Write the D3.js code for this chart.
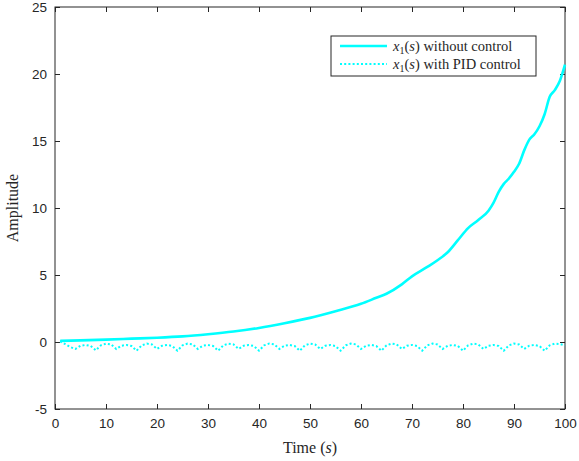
<!DOCTYPE html>
<html>
<head>
<meta charset="utf-8">
<script src="https://cdn.jsdelivr.net/npm/d3@7"></script>
<style>
  body { margin: 0; background: #fff; }
  svg { display: block; }
  .tick text { font-family: "Liberation Sans", Arial, sans-serif; font-size: 13.5px; fill: #262626; }
  .lbl { font-family: "Liberation Serif", "Times New Roman", serif; fill: #262626; }
</style>
</head>
<body>
<div id="chart"></div>
<script>
// time samples for the uncontrolled response
const timeOpen = [1, 5, 10, 15, 20, 25, 30, 35, 40, 45, 50, 55, 60, 63, 65, 68, 70, 73, 75, 77,
  79, 81, 83, 85, 86, 87, 88, 89, 90, 91, 92, 93, 94, 95, 96, 97, 98, 99, 100];
const ampOpen = [0.08, 0.12, 0.18, 0.25, 0.32, 0.42, 0.58, 0.78, 1.05, 1.4, 1.8, 2.3, 2.85, 3.3, 3.6, 4.3, 4.9, 5.6, 6.1, 6.7,
  7.6, 8.5, 9.1, 9.8, 10.4, 11.2, 11.8, 12.2, 12.7, 13.3, 14.3, 15.1, 15.5, 16.1, 17.0, 18.3, 18.8, 19.5, 20.7];

// PID-controlled response, one sample per second
const timePid = d3.range(1, 101);
const ampPid = [
  0.05, -0.15, -0.38, -0.52, -0.28, -0.22, -0.3, -0.62,
  -0.25, -0.12, -0.18, -0.52, -0.28, -0.22, -0.3, -0.65,
  -0.25, -0.12, -0.18, -0.52, -0.28, -0.22, -0.3, -0.65,
  -0.25, -0.12, -0.18, -0.52, -0.28, -0.22, -0.3, -0.65,
  -0.25, -0.12, -0.18, -0.52, -0.28, -0.22, -0.3, -0.65,
  -0.25, -0.12, -0.18, -0.52, -0.28, -0.22, -0.3, -0.65,
  -0.25, -0.12, -0.18, -0.52, -0.28, -0.22, -0.3, -0.65,
  -0.25, -0.12, -0.18, -0.52, -0.28, -0.22, -0.3, -0.65,
  -0.25, -0.12, -0.18, -0.52, -0.28, -0.22, -0.3, -0.65,
  -0.25, -0.12, -0.18, -0.52, -0.28, -0.22, -0.3, -0.65,
  -0.25, -0.12, -0.18, -0.52, -0.28, -0.22, -0.3, -0.65,
  -0.25, -0.12, -0.18, -0.52, -0.28, -0.22, -0.3, -0.65,
  -0.25, -0.12, -0.15, -0.25];

const xTicks = [0, 10, 20, 30, 40, 50, 60, 70, 80, 90, 100];
const yTicks = [-5, 0, 5, 10, 15, 20, 25];
const legendLabels = ["without control", "with PID control"];

const W = 579, H = 461;
const m = { left: 55, top: 7, right: 14, bottom: 52 };
const iw = W - m.left - m.right, ih = H - m.top - m.bottom;

const svg = d3.select("#chart").append("svg").attr("width", W).attr("height", H);
const g = svg.append("g").attr("transform", `translate(${m.left},${m.top})`);

const x = d3.scaleLinear().domain([0, 100]).range([0, iw]);
const y = d3.scaleLinear().domain([-5, 25]).range([ih, 0]);

const axisColor = "#262626";
const plain = d => String(d); // keep ascii hyphen for negatives
const styleAxis = sel => {
  sel.select(".domain").remove();
  sel.selectAll(".tick line").attr("stroke", axisColor);
};

// bottom / left axes with labels, ticks pointing inward
g.append("g").attr("transform", `translate(0,${ih})`)
  .call(d3.axisBottom(x).tickValues(xTicks).tickFormat(plain).tickSizeInner(-5).tickSizeOuter(0).tickPadding(9))
  .call(styleAxis);
g.append("g")
  .call(d3.axisLeft(y).tickValues(yTicks).tickFormat(plain).tickSizeInner(-5).tickSizeOuter(0).tickPadding(8))
  .call(styleAxis);
// mirrored ticks on top / right
g.append("g")
  .call(d3.axisTop(x).tickValues(xTicks).tickSizeInner(-5).tickSizeOuter(0).tickFormat(""))
  .call(styleAxis);
g.append("g").attr("transform", `translate(${iw},0)`)
  .call(d3.axisRight(y).tickValues(yTicks).tickSizeInner(-5).tickSizeOuter(0).tickFormat(""))
  .call(styleAxis);

g.append("rect").attr("width", iw).attr("height", ih)
  .attr("fill", "none").attr("stroke", axisColor).attr("stroke-width", 1);

const line = d3.line().x(d => x(d[0])).y(d => y(d[1]));

g.append("path")
  .datum(timeOpen.map((t, i) => [t, ampOpen[i]]))
  .attr("d", line.curve(d3.curveMonotoneX))
  .attr("fill", "none").attr("stroke", "#00ffff").attr("stroke-width", 2.6)
  .attr("stroke-linejoin", "round");

g.append("path")
  .datum(timePid.map((t, i) => [t, ampPid[i]]))
  .attr("d", line.curve(d3.curveLinear))
  .attr("fill", "none").attr("stroke", "#00ffff").attr("stroke-width", 2)
  .attr("stroke-dasharray", "2,2.2");

// axis titles
const xl = svg.append("text").attr("class", "lbl")
  .attr("x", m.left + iw / 2).attr("y", 453)
  .attr("text-anchor", "middle").attr("font-size", 16);
xl.append("tspan").text("Time (");
xl.append("tspan").attr("font-style", "italic").text("s");
xl.append("tspan").text(")");

svg.append("text").attr("class", "lbl")
  .attr("transform", `translate(18,${m.top + ih / 2}) rotate(-90)`)
  .attr("text-anchor", "middle").attr("font-size", 16)
  .text("Amplitude");

// legend
const lg = svg.append("g").attr("transform", "translate(331,36)");
lg.append("rect").attr("width", 205).attr("height", 40)
  .attr("fill", "#fff").attr("stroke", axisColor).attr("stroke-width", 1);

legendLabels.forEach((lab, i) => {
  const yy = 10 + i * 18;
  lg.append("line").attr("x1", 9).attr("x2", 56).attr("y1", yy).attr("y2", yy)
    .attr("stroke", "#00ffff").attr("stroke-width", i === 0 ? 2.6 : 2)
    .attr("stroke-dasharray", i === 0 ? null : "2,2.2");
  const t = lg.append("text").attr("class", "lbl")
    .attr("x", 62).attr("y", yy + 4.5).attr("font-size", 14.5);
  t.append("tspan").attr("font-style", "italic").text("x");
  t.append("tspan").attr("font-size", 10).attr("dy", 3).text("1");
  t.append("tspan").attr("dy", -3).text("(");
  t.append("tspan").attr("font-style", "italic").text("s");
  t.append("tspan").text(") " + lab);
});
</script>
</body>
</html>
